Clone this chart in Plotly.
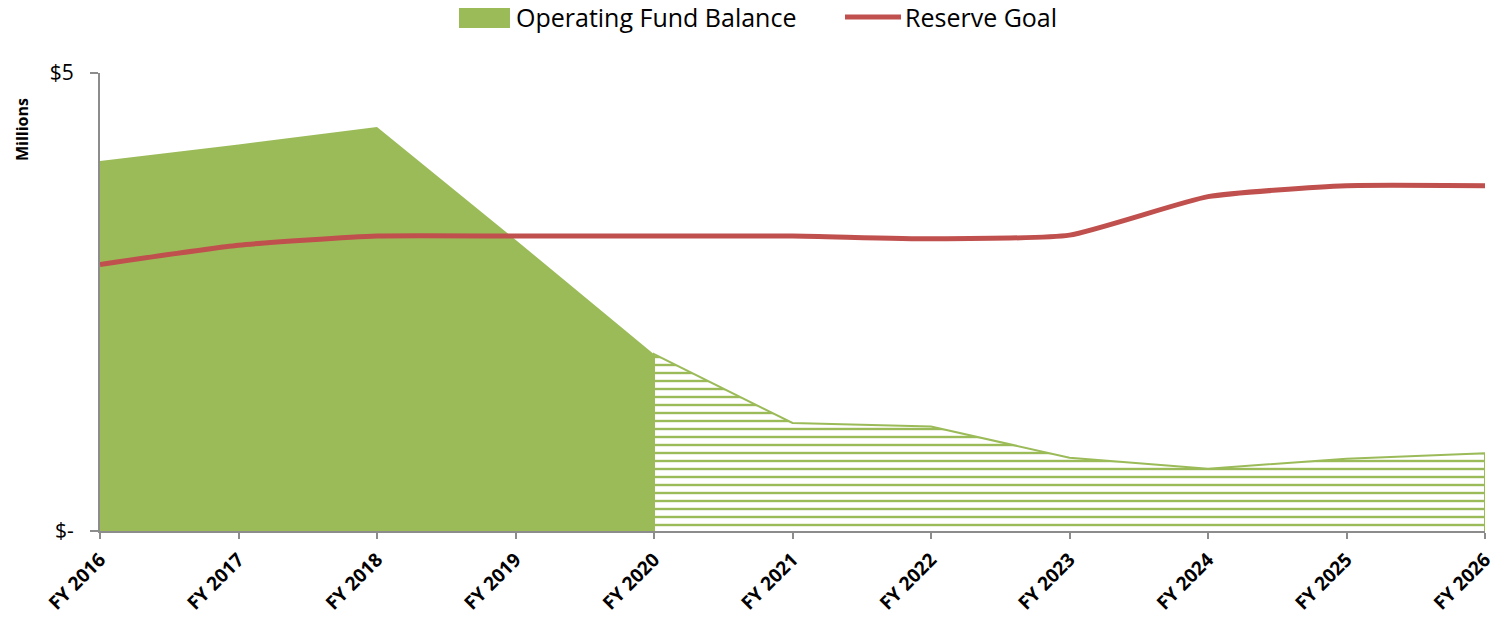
import plotly.graph_objects as go

years = ["FY 2016", "FY 2017", "FY 2018", "FY 2019", "FY 2020", "FY 2021",
         "FY 2022", "FY 2023", "FY 2024", "FY 2025", "FY 2026"]
fund_balance = [4.04, 4.22, 4.41, 3.18, 1.93, 1.18, 1.14, 0.80, 0.68, 0.79, 0.85]
reserve_goal = [2.91, 3.12, 3.22, 3.22, 3.22, 3.22, 3.19, 3.23, 3.65, 3.77, 3.77]
actual_last = 4  # index of FY 2020: actuals up to here, projections after

GREEN = "#9BBB59"
RED = "#C0504D"
AXIS = "#8C8C8C"
FONT = "Open Sans, sans-serif"

W, H = 1499, 620
L, R, T, B = 100, 14, 73, 89
PW, PH = W - L - R, H - T - B


def px_x(p):
    return (p - L) / PW


def px_y(p):
    return (H - B - p) / PH


x = list(range(len(years)))

fig = go.Figure()

# Solid actual area
fig.add_trace(go.Scatter(
    x=x[:actual_last + 1], y=fund_balance[:actual_last + 1],
    mode="lines", line=dict(color=GREEN, width=0),
    fill="tozeroy", fillcolor=GREEN,
    name="Operating Fund Balance", hoverinfo="x+y",
))

# Hatched projected area (closed polygon)
px_ = [x[actual_last]] + x[actual_last:] + [x[-1]]
py_ = [0] + fund_balance[actual_last:] + [0]
fig.add_trace(go.Scatter(
    x=px_, y=py_, mode="lines",
    line=dict(color=GREEN, width=2),
    fill="toself", fillcolor="white",
    fillpattern=dict(shape="-", fgcolor=GREEN, bgcolor="white", size=8,
                     solidity=0.3, fgopacity=1, fillmode="replace"),
    hoverinfo="skip",
))

fig.add_trace(go.Scatter(
    x=x, y=reserve_goal, mode="lines",
    line=dict(color=RED, width=5, shape="spline", smoothing=0.5),
    name="Reserve Goal",
))

# Legend drawn as shapes + text
shapes = [
    dict(type="rect", xref="paper", yref="paper",
         x0=px_x(459), x1=px_x(510), y0=px_y(28), y1=px_y(8),
         fillcolor=GREEN, line=dict(width=0)),
    dict(type="line", xref="paper", yref="paper",
         x0=px_x(845), x1=px_x(901), y0=px_y(17), y1=px_y(17),
         line=dict(color=RED, width=5)),
]
annotations = [
    dict(text="Operating Fund Balance", xref="paper", yref="paper",
         x=px_x(514), y=px_y(17), xanchor="left", yanchor="middle",
         showarrow=False, font=dict(size=25, family=FONT, color="black")),
    dict(text="Reserve Goal", xref="paper", yref="paper",
         x=px_x(903), y=px_y(17), xanchor="left", yanchor="middle",
         showarrow=False, font=dict(size=25, family=FONT, color="black")),
    dict(text="<b>Millions</b>", xref="paper", yref="paper",
         x=px_x(22), y=px_y(130), xanchor="center", yanchor="middle",
         textangle=-90, showarrow=False,
         font=dict(size=16, family=FONT, color="black")),
]

fig.update_layout(
    width=W, height=H,
    margin=dict(l=L, r=R, t=T, b=B, autoexpand=False),
    paper_bgcolor="white", plot_bgcolor="white",
    font=dict(family=FONT, color="black"),
    showlegend=False,
    shapes=shapes, annotations=annotations,
)

fig.update_xaxes(
    range=[0, 10], tickvals=x, ticktext=years, tickangle=-45,
    showgrid=False, showline=True, linecolor=AXIS, linewidth=2,
    ticks="outside", ticklen=6, tickcolor=AXIS, tickwidth=2,
    tickfont=dict(size=19, family=FONT, weight="bold"), ticklabelstandoff=2,
    zeroline=False, automargin=False,
)
fig.update_yaxes(
    range=[0, 5], tickvals=[0, 5], ticktext=["$-", "$5"],
    showgrid=True, gridcolor=AXIS, gridwidth=2,
    showline=True, linecolor=AXIS, linewidth=2,
    ticks="outside", ticklen=8, tickcolor=AXIS, tickwidth=2,
    tickfont=dict(size=21), ticklabelstandoff=12,
    zeroline=False, automargin=False,
)

fig.write_html("out.html", config={"displayModeBar": False},
               post_script="document.body.style.margin='0';")
